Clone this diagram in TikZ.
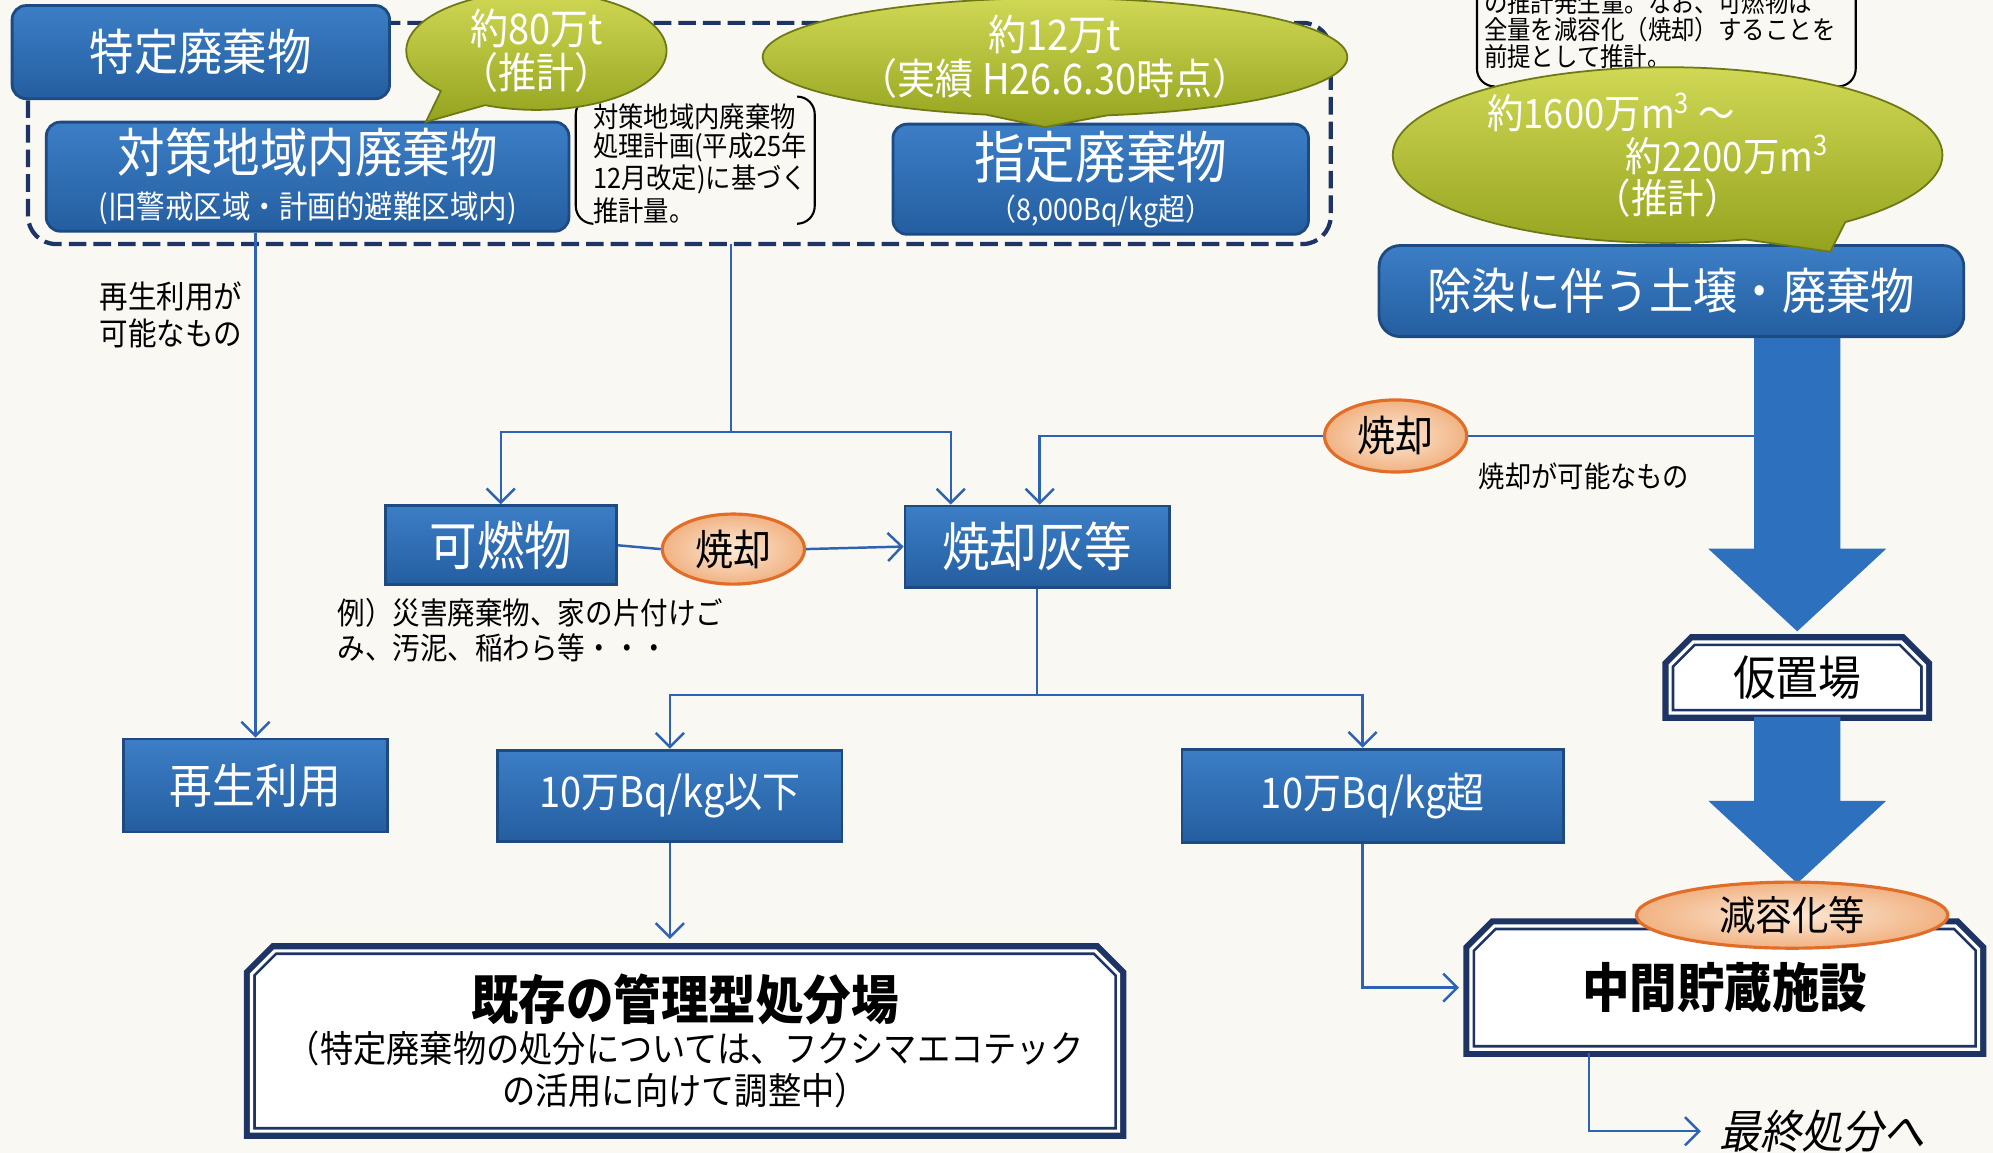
\documentclass[tikz,border=0pt]{standalone}
\usepackage{fontspec}
\setmainfont{Noto Sans CJK JP}[FakeStretch=0.9]
\newfontfamily\jpslant{Noto Sans CJK JP}[FakeStretch=0.9,FakeSlant=0.2]
\usetikzlibrary{shapes.geometric,shapes.misc,shapes.callouts,arrows.meta,calc}

\newcommand{\fsz}[2]{\fontsize{#1}{#2}\selectfont}
% fat arrow from #1 down to the tip #2
\newcommand{\bigdown}[2]{%
  \fill[kArrow] ($(#1)+(-34,0)$) -- ($(#1)+(34,0)$) -- ($(#2)+(34,-65)$) -- ($(#2)+(70,-65)$)
    -- (#2) -- ($(#2)+(-70,-65)$) -- ($(#2)+(-34,-65)$) -- cycle;}

\tikzset{
  wbox/.style={rectangle, rounded corners=4pt, draw=kBlueE, line width=0.8pt,
    top color=kBlueT, bottom color=kBlueB, text=white, align=center, inner sep=0pt},
  sqbox/.style={wbox, rounded corners=0pt},
  vault/.style={chamfered rectangle, chamfered rectangle corners={north west,north east},
    chamfered rectangle xsep=3pt, fill=white, draw=kNavy, line width=2.4pt,
    preaction={draw=kNavy, line width=4.4pt}, postaction={draw=white, line width=0.9pt},
    align=center, inner sep=0pt},
  bubble/.style={ellipse callout, callout pointer arc=24, top color=kGreenT, bottom color=kGreenB,
    draw=kGreenE, line width=0.5pt, text=white, align=center, inner sep=0pt},
  burn/.style={ellipse, draw=kPeachE, line width=0.9pt, inner color=kPeachT, outer color=kPeachB,
    align=center, inner sep=0pt},
  dashframe/.style={kNavy, line width=1.2pt, rounded corners=8pt, dash pattern=on 5pt off 2pt},
  flow/.style={kLine, line width=0.7pt},
  flowto/.style={flow, -{Straight Barb[length=4pt,width=8pt]}},
  note/.style={align=left, text=black, inner sep=0pt},
  brk/.style={black, line width=0.6pt, rounded corners=5pt},
}

\begin{document}
\begin{tikzpicture}[x=0.0127cm,y=-0.0127cm]
  % colors
  \definecolor{kBg}{RGB}{250,248,243}
  \definecolor{kBlueT}{RGB}{60,126,198}
  \definecolor{kBlueB}{RGB}{36,94,160}
  \definecolor{kBlueE}{RGB}{30,74,130}
  \definecolor{kNavy}{RGB}{30,52,100}
  \definecolor{kLine}{RGB}{46,98,180}
  \definecolor{kArrow}{RGB}{45,113,190}
  \definecolor{kGreenT}{RGB}{208,216,84}
  \definecolor{kGreenB}{RGB}{148,163,30}
  \definecolor{kGreenE}{RGB}{110,120,20}
  \definecolor{kPeachT}{RGB}{252,234,216}
  \definecolor{kPeachB}{RGB}{241,178,130}
  \definecolor{kPeachE}{RGB}{225,110,40}
  % page
  \useasboundingbox (0,0) rectangle (1568,907);
  \fill[kBg] (0,0) rectangle (1568,907);
  \clip (0,0) rectangle (1568,907);

  % dashed group
  \draw[dashframe] (22,18) rectangle (1047,192);
  \coordinate (fsplit) at (575,192);

  % upper boxes
  \node[wbox, minimum width=3.77cm, minimum height=0.93cm, font=\fsz{14pt}{16pt}] (tokutei) at (158,41) {特定廃棄物};
  \node[wbox, minimum width=5.22cm, minimum height=1.09cm] (taisaku) at (242,139)
    {{\fsz{15pt}{17pt}対策地域内廃棄物}\\[1pt]{\fsz{9pt}{10pt}(旧警戒区域・計画的避難区域内)}};
  \node[wbox, minimum width=4.15cm, minimum height=1.10cm] (shitei) at (866,141)
    {{\fsz{16pt}{18pt}指定廃棄物}\\{\fsz{8.5pt}{10pt}（8,000Bq/kg超）}};
  \node[wbox, rounded corners=6pt, minimum width=5.84cm, minimum height=0.91cm, font=\fsz{14pt}{16pt}] (josen) at (1315,229) {除染に伴う土壌・廃棄物};

  % notes in brackets
  \node[note, anchor=north west, font=\fsz{8pt}{8.2pt}] (noteA) at (466,81)
    {対策地域内廃棄物\\処理計画(平成25年\\12月改定)に基づく\\推計量。};
  \draw[brk] (466,76) -- (453,76) -- (453,176) -- (466,176);
  \draw[brk] (628,76) -- (641,76) -- (641,176) -- (628,176);
  \node[note, anchor=north west, font=\fsz{7.4pt}{7.7pt}] (noteB) at (1167,-8)
    {の推計発生量。なお、可燃物は\\全量を減容化（焼却）することを\\前提として推計。};
  \draw[brk] (1162,-30) -- (1162,68) -- (1176,68);
  \draw[brk] (1460,-30) -- (1460,68) -- (1446,68);

  % estimates
  \node[bubble, minimum width=2.6cm, minimum height=0.91cm, font=\fsz{12pt}{12.5pt},
    callout absolute pointer={(335,96)}] (g80) at (422,40) {約80万t\\（推計）};
  \node[bubble, minimum width=5.84cm, minimum height=0.99cm, font=\fsz{12pt}{12.5pt},
    callout absolute pointer={(822,100)}] (g12) at (830,45) {約12万t\\（実績 H26.6.30時点）};
  \node[bubble, minimum width=5.49cm, minimum height=1.35cm, font=\fsz{11.5pt}{12pt},
    callout absolute pointer={(1440,198)}] (g1600) at (1312,122)
    {約1600万m\textsuperscript{3} ～\hspace*{32pt}\\\hspace*{34pt}約2200万m\textsuperscript{3}\\（推計）};

  % middle row
  \node[sqbox, minimum width=2.31cm, minimum height=0.79cm, font=\fsz{15pt}{16pt}] (kanen) at (394,429) {可燃物};
  \node[sqbox, minimum width=2.64cm, minimum height=0.81cm, font=\fsz{15pt}{16pt}] (hai) at (816,430) {焼却灰等};
  \node[burn, minimum width=1.42cm, minimum height=0.70cm, font=\fsz{12pt}{13pt}] (burnA) at (577,432) {焼却};
  \node[burn, minimum width=1.42cm, minimum height=0.72cm, font=\fsz{12pt}{13pt}] (burnB) at (1098,343) {焼却};
  \node[note, anchor=west, font=\fsz{9pt}{10.5pt}] (lblA) at (78,248) {再生利用が\\可能なもの};
  \node[note, anchor=west, font=\fsz{8.7pt}{10pt}] (lblC) at (265,496) {例）災害廃棄物、家の片付けご\\み、汚泥、稲わら等・・・};
  \node[note, anchor=west, font=\fsz{8.3pt}{10pt}] (lblB) at (1163,375) {焼却が可能なもの};

  % lower row
  \node[sqbox, minimum width=2.64cm, minimum height=0.93cm, font=\fsz{13.5pt}{15pt}] (saisei) at (201,618) {再生利用};
  \node[sqbox, minimum width=3.44cm, minimum height=0.91cm, font=\fsz{12pt}{14pt}] (ika) at (527,626) {10万Bq/kg以下};
  \node[sqbox, minimum width=3.81cm, minimum height=0.93cm, font=\fsz{12pt}{14pt}] (cho) at (1080,626) {10万Bq/kg超};

  % flows
  \coordinate (jA) at (575,340);
  \coordinate (jB) at (1390,343);
  \coordinate (jC) at (816,547);
  \draw[flowto] (taisaku.south -| saisei.north) -- (saisei.north);
  \draw[flow] (fsplit) -- (jA);
  \draw[flowto] (jA) -| (kanen.north);
  \draw[flowto] (jA) -| ($(hai.north)+(-68,0)$);
  \draw[flow] (kanen.east) -- (burnA.west);
  \draw[flowto] (burnA.east) -- (hai.west);
  \draw[flow] (jB) -- (burnB.east);
  \draw[flowto] (burnB.west) -| ($(hai.north)+(2,0)$);
  \draw[flow] (hai.south) -- (jC);
  \draw[flowto] (jC) -| (ika.north);
  \draw[flowto] (jC) -| ($(cho.north)+(-8,0)$);

  % decontamination column
  \node[vault, minimum width=2.54cm, minimum height=0.71cm, font=\fsz{13.5pt}{15pt}] (kari) at (1414,533) {仮置場};
  \coordinate (aTop) at (josen.south -| kari.north);
  \coordinate (aTip) at ($(kari.north)+(0,-5)$);
  \bigdown{aTop}{aTip}
  \coordinate (bTop) at (kari.south);
  \coordinate (bTip) at (1414,695);
  \bigdown{bTop}{bTip}

  % disposal
  \node[vault, minimum width=8.66cm, minimum height=1.80cm] (kanri) at (539,819)
    {{\fsz{15pt}{19pt}\bfseries 既存の管理型処分場}\\
     {\fsz{10.5pt}{12.5pt}（特定廃棄物の処分については、フクシマエコテック}\\
     {\fsz{10.5pt}{12.5pt}の活用に向けて調整中）}};
  \node[vault, minimum width=5.07cm, minimum height=1.23cm, font=\fsz{15pt}{17pt}\bfseries] (chukan) at (1357,777) {中間貯蔵施設};
  \node[burn, minimum width=3.11cm, minimum height=0.66cm, font=\fsz{11.5pt}{12pt}] (genyo) at (1410,720) {減容化等};
  \node[font=\jpslant\fsz{13pt}{14pt}, anchor=west, inner sep=0pt] (final) at (1352,890) {最終処分へ};
  \draw[flowto, shorten >=2.2pt] (ika.south) -- (ika.south |- kanri.north);
  \draw[flowto, shorten >=2.2pt] ($(cho.south)+(-8,0)$) |- (chukan.west);
  \draw[flowto, shorten >=5pt] ($(chukan.south)+(-107,0)$) |- (final.west);
\end{tikzpicture}
\end{document}
